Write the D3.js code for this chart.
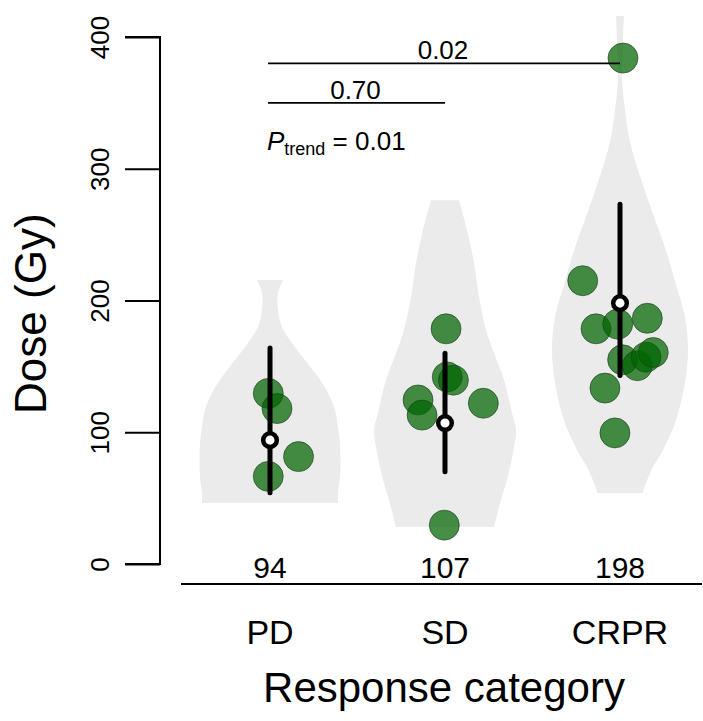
<!DOCTYPE html>
<html><head><meta charset="utf-8">
<script src="https://cdn.jsdelivr.net/npm/d3@7"></script>
<style>body{margin:0;background:#fff}svg{display:block}text{font-family:"Liberation Sans",Arial,sans-serif;fill:#000}</style>
</head><body><svg id="c" width="703" height="721"></svg>
<script>
// ---- data ----
const categories = ["PD", "SD", "CRPR"];
const yTicks = [0, 100, 200, 300, 400];
// individual doses (Gy) and horizontal jitter (in category units)
const pdDose   = [129.5, 118, 81.5, 66.5];
const pdJitter = [-0.01, 0.04, 0.163, -0.01];
const sdDose   = [178.5, 142, 139.5, 124.5, 113, 122, 29.5];
const sdJitter = [0.006, 0.013, 0.048, -0.154, -0.131, 0.219, -0.004];
const crDose   = [384, 215, 178.5, 182, 186.5, 155, 150.5, 157, 160.5, 133.5, 99.5];
const crJitter = [0.017, -0.213, -0.137, -0.013, 0.156, 0.015, 0.099, 0.149, 0.19, -0.086, -0.029];
// summary: central value and interval
const centre = [94, 107, 198];
const lower  = [54, 70, 143];
const upper  = [164, 160, 273];
// violin half-width profiles: [dose, relative width]
const pdViolin = [[215.5,13],[205.7,8],[192.8,8],[179.9,12],[167.7,22],[154.8,35],[141.9,48],[129.8,58],[116.9,65],[104,68],[91.8,70],[66,70],[53.9,68],[46.3,68]];
const sdViolin = [[276,14],[253.5,22],[228.5,29],[202.7,34],[177.6,41],[160,49],[139.7,59],[114.6,67],[101.7,71],[88.8,69],[63.8,62],[48.6,56],[28.1,49]];
const crViolin = [[416,4],[397.7,3],[382.5,2.5],[368.9,2],[346.9,4.6],[320.3,10],[293,20.6],[265.7,33],[239.1,45.5],[211.8,56],[187.5,65],[162.4,68],[137.4,65],[111.6,57],[99.4,51],[86.5,43],[73.6,33],[61.5,26],[53.9,22.5]];
const pValues = [{from:0,to:2,dose:380,label:"0.02"},{from:0,to:1,dose:350,label:"0.70"}];
const trendP = "0.01";

const groups = [
  {dose: pdDose, jit: pdJitter, violin: pdViolin},
  {dose: sdDose, jit: sdJitter, violin: sdViolin},
  {dose: crDose, jit: crJitter, violin: crViolin}
];

// ---- scales ----
const svg = d3.select("#c");
const x = d3.scaleLinear().domain([0, 2]).range([270, 620]);
const y = d3.scaleLinear().domain([0, 400]).range([564, 37]);
const w = d3.scaleLinear().domain([0, 1]).range([0, 1]); // half-width in px

// violins
groups.forEach((g, i) => {
  const area = d3.area()
    .y(d => y(d[0]))
    .x0(d => x(i) - w(d[1]))
    .x1(d => x(i) + w(d[1]))
    .curve(d3.curveCatmullRom);
  svg.append("path").datum(g.violin).attr("d", area)
    .attr("fill", "#ebebeb");
});

// points
groups.forEach((g, i) => {
  svg.append("g").selectAll("circle").data(g.dose).join("circle")
    .attr("cx", (d, j) => x(i + g.jit[j]))
    .attr("cy", d => y(d))
    .attr("r", 15)
    .attr("fill", "#006400").attr("fill-opacity", 0.72)
    .attr("stroke", "#1a3a1a").attr("stroke-opacity", 0.6).attr("stroke-width", 1);
});

// summary bars
const sg = svg.append("g");
sg.selectAll("line").data(categories).join("line")
  .attr("x1", (d, i) => x(i)).attr("x2", (d, i) => x(i))
  .attr("y1", (d, i) => y(lower[i])).attr("y2", (d, i) => y(upper[i]))
  .attr("stroke", "#000").attr("stroke-width", 5).attr("stroke-linecap", "round");
sg.selectAll("circle").data(categories).join("circle")
  .attr("cx", (d, i) => x(i)).attr("cy", (d, i) => y(centre[i]))
  .attr("r", 6.8).attr("fill", "#fff").attr("stroke", "#000").attr("stroke-width", 4.5);

// y axis
const yAxis = d3.axisLeft(y).tickValues(yTicks).tickSize(35).tickPadding(0).tickFormat(d3.format("d"));
const ya = svg.append("g").attr("transform", "translate(160,0)").call(yAxis);
ya.select(".domain").attr("d", `M-35,${y(400)}H0V${y(0)}H-35`).attr("stroke-width", 2).attr("fill", "none");
ya.selectAll(".tick line").attr("stroke-width", 2);
ya.selectAll(".tick text")
  .attr("transform", "rotate(-90)").attr("x", 0).attr("y", -51).attr("dy", 0)
  .attr("text-anchor", "middle").style("font-size", "26px").style("font-family", '"Liberation Sans",Arial,sans-serif');

// x axis line
svg.append("line").attr("x1", 181).attr("x2", 702).attr("y1", 584).attr("y2", 584)
  .attr("stroke", "#000").attr("stroke-width", 2);

// numbers under violins
svg.append("g").selectAll("text").data(centre).join("text")
  .attr("x", (d, i) => x(i)).attr("y", 578).attr("text-anchor", "middle")
  .style("font-size", "30px").text(d => d);
// category labels
svg.append("g").selectAll("text").data(categories).join("text")
  .attr("x", (d, i) => x(i)).attr("y", 644).attr("text-anchor", "middle")
  .style("font-size", "34px").text(d => d);

// axis titles
svg.append("text").attr("x", 444).attr("y", 702).attr("text-anchor", "middle")
  .style("font-size", "42px").text("Response category");
svg.append("text").attr("transform", `translate(46,${y(190)}) rotate(-90)`).attr("text-anchor", "middle")
  .style("font-size", "44px").text("Dose (Gy)");

// p-value brackets
pValues.forEach(p => {
  svg.append("line").attr("x1", x(p.from) - 2).attr("x2", x(p.to)).attr("y1", y(p.dose)).attr("y2", y(p.dose))
    .attr("stroke", "#000").attr("stroke-width", 1.6);
  svg.append("text").attr("x", (x(p.from) + x(p.to)) / 2 - 2).attr("y", y(p.dose) - 4)
    .attr("text-anchor", "middle").style("font-size", "26px").text(p.label);
});
const t = svg.append("text").attr("x", x(0) - 3).attr("y", y(314)).style("font-size", "26px");
t.append("tspan").style("font-style", "italic").text("P");
t.append("tspan").attr("dy", 5).style("font-size", "18px").text("trend");
t.append("tspan").attr("dy", -5).text(" = " + trendP);
</script></body></html>
